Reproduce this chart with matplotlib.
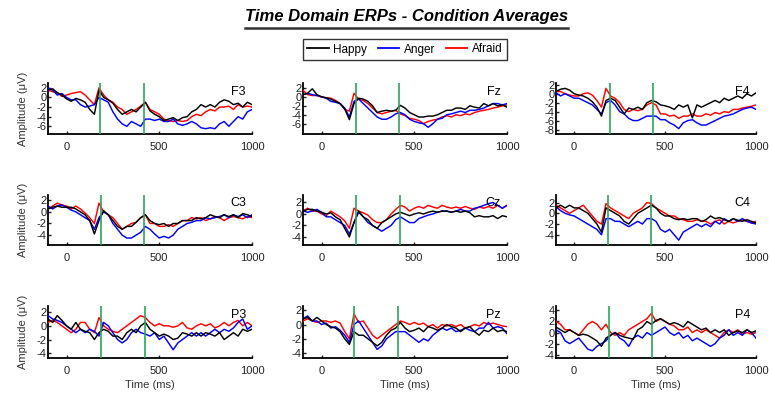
import matplotlib
matplotlib.use("Agg")
import matplotlib.pyplot as plt
from matplotlib.lines import Line2D

plt.rcParams['font.family'] = ['Liberation Sans', 'DejaVu Sans']
plt.rcParams['axes.unicode_minus'] = False

# ---------------- data ----------------
times = [-100, -75, -50, -25, 0, 25, 50, 75, 100, 125, 150, 175, 200, 225, 250, 275, 300,
         325, 350, 375, 400, 425, 450, 475, 500, 525, 550, 575, 600, 625, 650, 675, 700,
         725, 750, 775, 800, 825, 850, 875, 900, 925, 950, 975, 1000]

channels = ["F3", "Fz", "F4", "C3", "Cz", "C4", "P3", "Pz", "P4"]
conditions = ["Happy", "Anger", "Afraid"]

happy_F3 = [1.5, 1.8, 1.0, 0.5, -0.3, -0.8, -0.2, -0.5, -1.0, -2.5, -3.5, 1.5, 0.0, -0.5, -1.2, -2.5, -3.5, -3.0, -2.5, -3.0, -2.0, -1.0, -2.8, -3.5, -4.0, -4.8, -4.5, -4.2, -4.8, -4.2, -4.0, -3.0, -2.5, -1.5, -2.0, -1.5, -2.0, -1.0, -0.5, -0.8, -1.5, -1.2, -2.0, -1.0, -1.5]
afraid_F3 = [1.5, 1.2, 1.0, 0.2, 0.5, 0.8, 1.0, 1.2, 0.5, -0.5, -1.5, 2.0, 0.5, -0.5, -1.0, -2.0, -2.5, -3.5, -3.0, -2.5, -1.8, -1.0, -2.5, -3.0, -3.5, -4.5, -4.8, -5.0, -4.8, -5.0, -4.8, -4.0, -3.5, -3.8, -3.0, -2.5, -2.8, -2.0, -2.0, -1.8, -2.5, -1.5, -2.0, -1.8, -2.0]
anger_F3 = [2.0, 1.5, 0.5, 0.8, 0.0, -0.5, -0.5, -1.5, -2.0, -1.8, -1.5, 0.0, -0.5, -1.0, -3.0, -4.5, -5.5, -6.0, -5.0, -5.5, -6.0, -4.5, -4.5, -4.8, -4.5, -5.0, -5.0, -4.5, -5.5, -5.8, -5.5, -5.0, -5.5, -6.3, -6.5, -6.3, -6.5, -5.5, -5.0, -6.0, -5.0, -4.0, -4.5, -3.0, -2.5]

happy_Fz = [0.5, 0.8, 1.8, 0.5, 0.0, -0.2, -0.5, -1.0, -1.5, -2.7, -5.1, -1.5, -0.3, -0.5, -1.0, -2.0, -3.5, -3.2, -3.0, -3.2, -3.0, -1.9, -2.5, -3.5, -4.0, -4.5, -4.5, -4.3, -4.3, -4.0, -3.5, -3.0, -3.0, -2.5, -2.5, -2.8, -2.0, -2.3, -2.5, -1.5, -2.0, -1.5, -2.0, -1.8, -2.3]
afraid_Fz = [1.5, 0.5, 0.3, 0.3, 0.0, -0.2, -0.3, -0.8, -1.5, -2.8, -3.2, 0.8, -0.5, -0.8, -1.5, -2.5, -3.5, -3.8, -3.5, -3.2, -3.0, -3.8, -4.2, -4.8, -5.0, -5.3, -6.0, -5.5, -5.2, -5.0, -4.5, -4.2, -4.5, -4.0, -4.2, -3.8, -4.0, -3.5, -3.2, -3.0, -2.8, -2.5, -2.3, -2.0, -1.8]
anger_Fz = [0.5, 0.8, 0.5, 0.3, 0.0, -0.3, -1.0, -1.2, -1.5, -2.5, -4.5, -1.0, -0.5, -1.5, -2.5, -3.5, -4.5, -5.0, -5.0, -4.5, -3.8, -3.5, -4.0, -5.0, -5.5, -5.8, -6.0, -6.8, -6.0, -5.0, -4.8, -4.0, -3.8, -3.5, -3.2, -3.5, -3.0, -3.0, -2.8, -2.5, -2.0, -1.5, -1.5, -1.8, -1.5]

happy_F4 = [0.5, 1.0, 1.2, 0.8, 0.0, -0.3, -0.5, -1.0, -1.8, -3.0, -5.0, -1.5, -1.0, -1.5, -3.0, -4.5, -3.2, -3.5, -3.0, -3.5, -2.0, -1.5, -1.8, -2.5, -2.7, -3.0, -3.5, -2.5, -3.0, -2.5, -5.4, -2.5, -3.0, -2.5, -2.0, -1.5, -2.0, -1.0, -1.5, -1.0, -0.5, -1.0, 0.0, -0.5, 0.2]
afraid_F4 = [0.5, 0.5, 0.0, -0.3, -0.5, -0.5, 0.0, 0.2, -0.3, -1.5, -3.0, 1.2, -0.5, -1.0, -2.0, -3.5, -4.0, -3.5, -3.8, -3.5, -2.5, -2.0, -2.5, -4.5, -4.5, -5.0, -4.8, -5.5, -5.0, -5.0, -4.5, -5.0, -5.0, -4.5, -4.8, -4.2, -4.5, -4.0, -4.2, -3.5, -3.5, -3.2, -3.0, -2.8, -2.5]
anger_F4 = [0.2, -0.5, 0.0, -0.5, -1.0, -1.0, -1.5, -2.0, -2.5, -3.5, -4.5, -2.0, -1.5, -2.5, -4.0, -4.5, -5.5, -6.0, -6.0, -5.5, -5.0, -5.0, -5.0, -5.8, -5.8, -6.5, -7.0, -7.8, -6.5, -6.0, -5.8, -6.5, -7.0, -7.0, -6.5, -6.0, -5.5, -5.0, -4.8, -4.5, -4.0, -3.5, -3.2, -3.0, -3.5]

happy_C3 = [0.5, 0.8, 1.0, 0.8, 0.8, 0.8, 0.5, 0.0, -0.5, -1.5, -3.8, -1.5, 0.2, -0.5, -1.5, -2.5, -3.0, -2.5, -2.5, -1.8, -1.0, -0.5, -1.5, -2.0, -2.2, -2.0, -2.5, -2.0, -2.0, -1.5, -1.5, -1.5, -1.0, -1.2, -1.0, -0.5, -0.8, -1.0, -0.5, -0.8, -0.5, -1.0, -0.3, -0.5, -0.8]
afraid_C3 = [0.5, 1.0, 1.5, 1.2, 1.0, 0.5, 1.0, 0.5, -0.2, -1.0, -2.0, 1.5, 0.0, -0.5, -1.0, -2.0, -3.0, -2.5, -2.0, -1.8, -1.0, -0.5, -2.0, -2.0, -2.5, -2.5, -2.2, -2.5, -2.0, -1.5, -1.5, -1.0, -1.2, -1.0, -1.5, -1.2, -0.8, -1.0, -1.5, -1.0, -0.8, -1.0, -1.2, -0.8, -1.0]
anger_C3 = [1.0, 0.5, 1.0, 1.2, 0.8, 0.3, 0.0, -0.5, -1.0, -1.5, -3.0, -1.0, 0.0, -0.5, -2.0, -3.0, -4.0, -4.5, -4.5, -4.0, -3.5, -2.5, -3.0, -3.8, -4.5, -4.2, -4.5, -4.0, -3.0, -2.5, -2.0, -1.8, -1.5, -1.5, -1.0, -1.2, -1.0, -0.8, -0.5, -1.0, -0.5, -0.8, -0.5, -1.0, -0.5]

happy_Cz = [0.5, 0.8, 0.8, 0.5, 0.3, 0.0, 0.2, -0.5, -1.0, -2.5, -4.0, -1.5, 0.5, -0.5, -1.0, -2.0, -2.5, -1.5, -1.0, -0.5, 0.0, 0.3, 0.0, -0.3, 0.0, 0.2, 0.0, 0.3, 0.5, 0.3, 0.5, 0.5, 0.3, 0.5, 0.3, 0.5, 0.2, -0.5, -0.3, -0.5, -0.5, -0.3, -0.8, -0.3, -0.5]
afraid_Cz = [0.5, 1.0, 0.5, 0.5, 0.0, -0.3, 0.5, 0.0, -0.5, -1.2, -2.5, 1.0, 0.5, 0.2, -0.2, -1.0, -1.5, -1.5, -1.0, 0.0, 0.8, 1.5, 1.2, 0.5, 1.0, 1.3, 1.0, 1.5, 1.2, 1.0, 1.5, 1.2, 1.0, 1.2, 1.0, 1.3, 1.0, 0.8, 1.2, 1.0, 1.3, 1.0, 1.5, 1.0, 1.5]
anger_Cz = [0.5, 0.3, 0.5, 0.8, 0.3, -0.5, -0.5, -1.0, -1.5, -2.0, -3.5, -1.5, 0.3, -0.5, -1.5, -2.0, -2.5, -3.0, -2.5, -2.0, -1.0, -0.5, -1.0, -1.5, -1.5, -0.8, -0.5, -0.2, 0.0, 0.3, 0.5, 0.5, 0.3, 0.5, 0.8, 0.5, 0.5, 1.0, 1.2, 1.5, 1.8, 2.0, 1.5, 1.0, 1.5]

happy_C4 = [1.0, 1.5, 1.0, 1.5, 1.0, 1.0, 0.5, 0.0, -1.0, -2.0, -3.5, 1.0, 0.5, 0.0, -0.5, -1.5, -2.0, -1.0, 0.0, 0.5, 1.0, 1.5, 1.0, 0.0, -0.5, -0.5, -1.0, -1.2, -1.0, -1.2, -1.0, -1.0, -1.5, -1.2, -0.5, -1.0, -0.8, -1.2, -1.5, -1.0, -1.3, -1.5, -1.2, -1.5, -1.8]
afraid_C4 = [1.5, 1.0, 0.5, 0.0, 0.5, 1.0, 1.5, 0.5, -0.5, -1.5, -2.0, 1.8, 1.0, 0.5, 0.0, -0.5, -1.0, 0.0, 0.5, 1.0, 2.0, 1.8, 1.0, 0.5, 0.0, -0.5, -0.5, -1.0, -1.2, -1.5, -1.5, -1.2, -1.5, -1.5, -2.0, -1.5, -1.2, -2.0, -1.5, -1.8, -1.5, -1.2, -1.5, -1.8, -1.5]
anger_C4 = [1.2, 0.5, 0.0, -0.3, -0.5, -1.0, -1.5, -2.0, -2.5, -3.0, -4.0, -1.0, -1.0, -1.5, -1.5, -2.0, -2.5, -2.0, -1.5, -2.0, -1.0, -1.0, -1.5, -3.0, -3.5, -3.0, -4.0, -5.0, -3.5, -3.0, -2.5, -2.0, -2.5, -2.0, -2.5, -1.5, -2.0, -1.0, -1.5, -1.0, -1.5, -1.0, -1.5, -1.8, -2.0]

happy_P3 = [1.0, 0.5, 1.5, 0.8, 0.0, -0.5, 0.5, -0.5, -0.8, -1.0, -2.0, -1.0, -0.5, -0.8, -1.5, -1.5, -2.0, -1.0, -0.5, -1.0, 0.0, 0.5, -0.5, -1.0, -1.5, -1.2, -1.5, -2.0, -1.8, -1.0, -1.2, -1.5, -1.0, -1.5, -1.0, -1.2, -1.5, -1.0, -2.0, -1.5, -1.0, -1.5, -0.5, -0.8, -0.5]
afraid_P3 = [0.5, 0.8, 0.5, 0.0, -0.5, -1.0, -0.5, 0.5, 0.5, -0.5, -1.0, 1.2, 0.0, -0.5, -0.8, -1.0, -0.5, 0.0, 0.5, 1.0, 1.5, 1.2, 0.5, 0.0, 0.3, 0.0, 0.0, -0.2, 0.0, 0.5, -0.3, -0.5, 0.0, 0.3, 0.0, 0.3, -0.3, 0.0, 0.5, 0.0, 0.5, 0.8, 0.0, 0.5, 0.0]
anger_P3 = [1.5, 1.0, 0.8, 0.5, 0.0, -0.5, -1.0, -0.5, -1.0, -0.5, -0.8, -1.5, 0.5, 0.0, -1.0, -2.0, -2.5, -2.0, -1.0, -0.5, -1.0, -1.2, -1.5, -1.0, -2.0, -1.5, -2.5, -3.5, -2.5, -2.0, -1.5, -1.0, -1.5, -1.0, -1.5, -1.0, -0.5, -1.0, -0.5, -0.8, -0.3, 0.5, 1.0, -0.5, 0.0]

happy_Pz = [0.8, 1.0, 0.5, 1.0, 0.5, 0.0, -0.3, -0.5, -1.0, -2.0, -2.8, -1.0, -1.5, -1.5, -2.0, -2.5, -3.0, -2.5, -1.5, -0.8, -0.5, 0.3, -0.5, -1.0, -0.8, -0.5, -1.0, -0.3, -0.5, -0.8, -0.5, 0.0, -0.3, -0.5, -1.0, -0.5, -0.3, -1.0, -1.5, -0.8, -1.0, -0.5, -1.0, -0.8, -1.0]
afraid_Pz = [0.5, 0.8, 0.5, 0.3, 0.5, 0.5, 0.3, 0.5, 0.2, -1.0, -2.0, 1.5, 0.3, 0.5, -0.5, -1.5, -2.0, -1.5, -1.0, -0.5, 0.0, 0.5, 0.3, 0.0, 0.3, 0.0, 0.2, -0.3, 0.0, -0.5, 0.0, -0.2, 0.0, -0.3, 0.0, -0.5, -0.3, 0.0, -0.2, 0.3, 0.0, 0.2, 0.0, -0.2, -0.3]
anger_Pz = [0.8, 1.2, 0.5, 0.5, 0.0, 0.2, -0.5, -0.3, -0.8, -1.5, -2.5, 0.0, 0.5, -0.5, -1.5, -2.5, -3.5, -3.0, -2.0, -1.5, -1.0, -1.0, -1.0, -1.5, -2.0, -2.5, -2.0, -2.3, -1.5, -1.0, -0.5, -0.8, -0.5, -1.0, -0.8, -0.5, -0.8, -1.0, -0.5, -0.5, 0.3, -0.5, -0.3, -0.5, -1.3]

happy_P4 = [1.0, 0.5, 0.0, 0.5, 0.0, -0.5, -0.3, -0.5, -1.0, -1.5, -2.5, -1.0, -0.5, 0.0, -0.5, -0.8, -1.0, -1.2, 0.5, 1.0, 2.0, 1.5, 2.2, 2.5, 2.0, 1.5, 1.8, 1.5, 1.0, 2.0, 1.5, 1.0, 0.5, 0.8, 0.0, 0.5, 0.0, 0.5, -0.5, 0.0, 0.3, 0.0, 0.5, 0.0, 0.3]
afraid_P4 = [2.0, 1.5, 0.5, 0.5, 0.0, -0.5, 0.5, 1.5, 2.0, 1.5, 0.5, 1.5, 0.0, -0.5, 0.0, -0.5, 0.5, 1.0, 1.5, 2.0, 2.5, 3.5, 2.0, 2.5, 2.0, 1.5, 1.2, 0.5, 0.5, 1.0, 0.0, 0.5, 0.0, 0.5, 0.0, -0.5, -1.0, 0.0, 0.5, 0.0, 0.5, -0.3, 0.0, -0.3, 0.0]
anger_P4 = [0.5, 0.0, -1.5, -2.0, -1.5, -1.0, -2.0, -3.0, -3.3, -2.5, -2.0, -1.5, -0.5, 0.0, -1.0, -1.5, -2.5, -1.0, -0.5, -1.0, 0.0, -0.5, 0.0, 0.5, 1.0, 0.0, -0.5, 0.0, -1.0, -0.5, -1.5, -1.0, -1.5, -2.0, -2.5, -2.0, -1.0, -0.5, 0.5, -0.5, 0.0, -0.5, 0.5, 0.0, -1.0]

happy = [happy_F3, happy_Fz, happy_F4, happy_C3, happy_Cz, happy_C4, happy_P3, happy_Pz, happy_P4]
anger = [anger_F3, anger_Fz, anger_F4, anger_C3, anger_Cz, anger_C4, anger_P3, anger_Pz, anger_P4]
afraid = [afraid_F3, afraid_Fz, afraid_F4, afraid_C3, afraid_Cz, afraid_C4, afraid_P3, afraid_Pz, afraid_P4]

# green marker lines (ms) per channel
marker1 = [180, 187, 195, 185, 184, 186, 188, 176, 190]
marker2 = [415, 419, 432, 419, 421, 424, 424, 412, 427]

ylims = [(-7.6, 3.0), (-8.3, 3.1), (-9.0, 2.4), (-5.7, 2.9), (-5.4, 3.3),
         (-5.9, 3.4), (-4.7, 2.9), (-4.7, 2.6), (-4.6, 4.8)]
yticks = [[-6, -4, -2, 0, 2], [-6, -4, -2, 0, 2], [-8, -6, -4, -2, 0, 2],
          [-4, -2, 0, 2], [-4, -2, 0, 2], [-4, -2, 0, 2],
          [-4, -2, 0, 2], [-4, -2, 0, 2], [-4, -2, 0, 2, 4]]
xticks = [0, 500, 1000]

colors = {"Happy": "#000000", "Anger": "#0000ff", "Afraid": "#ff0000"}
green = "#2aa55a"

# ---------------- figure ----------------
W, H = 769, 399
fig = plt.figure(figsize=(W / 100, H / 100), dpi=100)

col_left = [48, 303, 556]
col_w = [204, 204, 200]
row_top = [83, 195, 306]
row_bot = [134, 245, 358]

for i, ch in enumerate(channels):
    r, c = divmod(i, 3)
    ax = fig.add_axes([col_left[c] / W, 1 - row_bot[r] / H, col_w[c] / W,
                       (row_bot[r] - row_top[r]) / H])
    for name, series in (("Happy", happy), ("Afraid", afraid), ("Anger", anger)):
        ax.plot(times, series[i], color=colors[name], lw=1.05,
                zorder=3 if name != "Happy" else 4)
    ax.axvline(marker1[i], color=green, lw=1.2, zorder=5)
    ax.axvline(marker2[i], color=green, lw=1.2, zorder=5)
    ax.set_xlim(-100, 1000)
    ax.set_ylim(*ylims[i])
    ax.set_xticks(xticks)
    ax.set_yticks(yticks[i])
    for s in ("top", "right"):
        ax.spines[s].set_visible(False)
    for s in ("left", "bottom"):
        ax.spines[s].set_linewidth(1.3)
    ax.tick_params(direction="in", length=2.5, width=1.0, labelsize=8,
                   colors="#222222")
    ax.yaxis.set_tick_params(pad=1)
    ax.xaxis.set_tick_params(pad=6)
    ax.text(0.97, 0.95, ch, transform=ax.transAxes, ha="right", va="top", fontsize=9)
    if c == 0:
        ax.set_ylabel("Amplitude (\u03bcV)", fontsize=8, color="#333333", labelpad=6)
    if r == 2:
        ax.set_xlabel("Time (ms)", fontsize=8, color="#333333", labelpad=3)

# title with underline
fig.text(407 / W, 1 - 16 / H, "Time Domain ERPs - Condition Averages", ha="center",
         va="center", fontsize=12, fontweight="bold", fontstyle="italic")
fig.add_artist(Line2D([245 / W, 568 / W], [1 - 28 / H, 1 - 28 / H], color="#333333",
                      lw=1.8, transform=fig.transFigure))

handles = [Line2D([], [], color=colors[n], lw=1.3) for n in conditions]
leg = fig.legend(handles, conditions, loc="center", bbox_to_anchor=(405 / W, 1 - 49.5 / H),
                 ncol=3, fontsize=8.5, frameon=True, fancybox=False, edgecolor="black",
                 handlelength=1.8, handletextpad=0.4, columnspacing=0.9,
                 borderpad=0.35)
leg.get_frame().set_linewidth(1.0)

fig.savefig("out.png", dpi=100)
